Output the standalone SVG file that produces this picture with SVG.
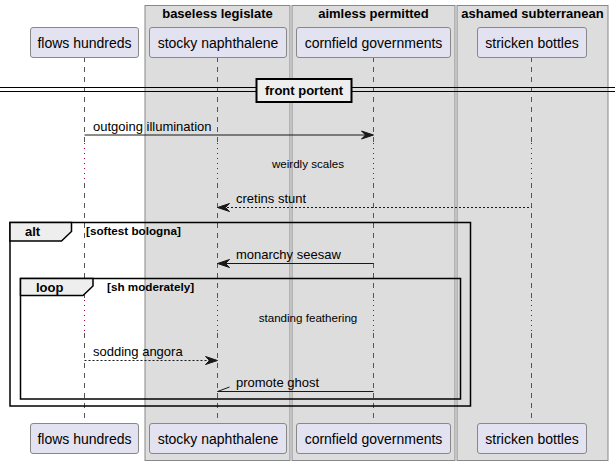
<svg xmlns="http://www.w3.org/2000/svg" width="615" height="464" viewBox="0 0 615 464">
<style>
.grp{fill:#DDDDDD;stroke:#888888;stroke-width:1}
.gt{font-family:"Liberation Sans",Arial,sans-serif;font-size:13px;font-weight:bold;fill:#000;text-anchor:middle}
.p{fill:#E2E2F0;stroke:#888888;stroke-width:1}
.pt{font-family:"Liberation Sans",Arial,sans-serif;font-size:14px;fill:#000;text-anchor:middle}
.ll{stroke:#555555;stroke-width:1;stroke-dasharray:5,5;fill:none}
.dl{stroke:#A80036;stroke-width:1;stroke-dasharray:1,4;fill:none}
.m{stroke:#181818;stroke-width:1;fill:none}
.md{stroke:#181818;stroke-width:1;fill:none;stroke-dasharray:2,2}
.ah{fill:#181818;stroke:#181818;stroke-width:1}
.mt{font-family:"Liberation Sans",Arial,sans-serif;font-size:13px;fill:#000}
.dt{font-family:"Liberation Sans",Arial,sans-serif;font-size:11.6px;fill:#000;text-anchor:middle}
.fr{fill:none;stroke:#000;stroke-width:1.5}
.tab{fill:#EEEEEE;stroke:#000;stroke-width:1.5}
.ft{font-family:"Liberation Sans",Arial,sans-serif;font-size:13px;font-weight:bold;fill:#000}
.fc{font-family:"Liberation Sans",Arial,sans-serif;font-size:11.7px;font-weight:bold;fill:#000}
</style>
<rect width="615" height="464" fill="#FFFFFF"/>
<g id="box-baseless-legislate">
<rect class="grp" x="145" y="5.5" width="145" height="455"/>
<text class="gt" x="217.5" y="18">baseless legislate</text>
</g>
<g id="box-aimless-permitted">
<rect class="grp" x="292" y="5.5" width="163" height="455"/>
<text class="gt" x="373.5" y="18">aimless permitted</text>
</g>
<g id="box-ashamed-subterranean">
<rect class="grp" x="457" y="5.5" width="151" height="455"/>
<text class="gt" x="532.5" y="18">ashamed subterranean</text>
</g>
<g id="lifelines">
<path class="ll" d="M84.5,57 V143 M84.5,183 V300 M84.5,333 V423"/>
<path class="dl" d="M84.5,143 V183 M84.5,300 V333"/>
<path class="ll" d="M217.5,57 V143 M217.5,183 V300 M217.5,333 V423"/>
<path class="dl" d="M217.5,143 V183 M217.5,300 V333"/>
<path class="ll" d="M373.5,57 V143 M373.5,183 V300 M373.5,333 V423"/>
<path class="dl" d="M373.5,143 V183 M373.5,300 V333"/>
<path class="ll" d="M531.5,57 V143 M531.5,183 V300 M531.5,333 V423"/>
<path class="dl" d="M531.5,143 V183 M531.5,300 V333"/>
</g>
<g id="flows-hundreds">
<rect class="p" x="30.5" y="27.5" width="108" height="30" rx="2.5"/>
<text class="pt" x="84.5" y="47.5">flows hundreds</text>
<rect class="p" x="30.5" y="423.5" width="108" height="30" rx="2.5"/>
<text class="pt" x="84.5" y="443.5">flows hundreds</text>
</g>
<g id="stocky-naphthalene">
<rect class="p" x="149.5" y="27.5" width="137" height="30" rx="2.5"/>
<text class="pt" x="218" y="47.5">stocky naphthalene</text>
<rect class="p" x="149.5" y="423.5" width="137" height="30" rx="2.5"/>
<text class="pt" x="218" y="443.5">stocky naphthalene</text>
</g>
<g id="cornfield-governments">
<rect class="p" x="296.5" y="27.5" width="154" height="30" rx="2.5"/>
<text class="pt" x="373.5" y="47.5">cornfield governments</text>
<rect class="p" x="296.5" y="423.5" width="154" height="30" rx="2.5"/>
<text class="pt" x="373.5" y="443.5">cornfield governments</text>
</g>
<g id="stricken-bottles">
<rect class="p" x="477.5" y="27.5" width="109" height="30" rx="2.5"/>
<text class="pt" x="532" y="47.5">stricken bottles</text>
<rect class="p" x="477.5" y="423.5" width="109" height="30" rx="2.5"/>
<text class="pt" x="532" y="443.5">stricken bottles</text>
</g>
<g id="divider-front-portent">
<path d="M0,87.5 H615 M0,91.5 H615" stroke="#000" stroke-width="1" fill="none"/>
<rect x="256.5" y="79" width="95" height="23" fill="#EEEEEE" stroke="#000" stroke-width="2"/>
<text class="gt" x="304" y="95">front portent</text>
</g>
<g id="frames">
<rect class="fr" x="10" y="222.5" width="460.5" height="183.5"/>
<path class="tab" d="M10,222.5 H71.5 V231.5 L61.5,241 H10 Z"/>
<text class="ft" x="25" y="236">alt</text>
<text class="fc" x="86" y="235">[softest bologna]</text>
<rect class="fr" x="20.5" y="278.5" width="440" height="120.5"/>
<path class="tab" d="M20.5,278.5 H93 V286 L83,295.5 H20.5 Z"/>
<text class="ft" x="36" y="292">loop</text>
<text class="fc" x="107" y="291">[sh moderately]</text>
</g>
<g id="connectors">
<line class="m" x1="84.5" y1="135" x2="372" y2="135"/>
<polygon class="ah" points="361.5,131 373.5,135 361.5,139 365.5,135"/>
<text class="mt" x="93" y="131">outgoing illumination</text>
<text class="dt" x="308" y="168">weirdly scales</text>
<line class="md" x1="219" y1="207.5" x2="531.5" y2="207.5"/>
<polygon class="ah" points="229.5,203.5 217.5,207.5 229.5,211.5 225.5,207.5"/>
<text class="mt" x="236" y="203">cretins stunt</text>
<line class="m" x1="219" y1="263.5" x2="373.5" y2="263.5"/>
<polygon class="ah" points="229.5,259.5 217.5,263.5 229.5,267.5 225.5,263.5"/>
<text class="mt" x="236" y="259">monarchy seesaw</text>
<text class="dt" x="308" y="322">standing feathering</text>
<line class="md" x1="84.5" y1="360.5" x2="216" y2="360.5"/>
<polygon class="ah" points="205.5,356.5 217.5,360.5 205.5,364.5 209.5,360.5"/>
<text class="mt" x="93" y="356">sodding angora</text>
<path class="m" d="M373.5,391.5 H217.5 L229.5,387"/>
<text class="mt" x="236" y="387">promote ghost</text>
</g>
</svg>
